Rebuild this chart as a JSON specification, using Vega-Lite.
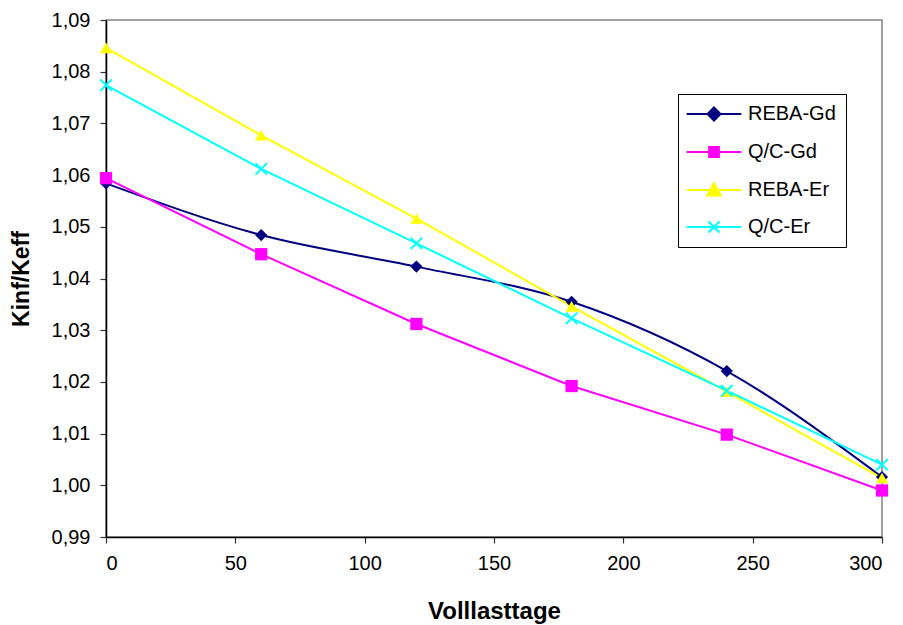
{
  "$schema": "https://vega.github.io/schema/vega-lite/v6.json",
  "autosize": "none",
  "width": 776,
  "height": 517,
  "padding": {"left": 106, "top": 20, "right": 21, "bottom": 88},
  "background": "white",
  "config": {
    "font": "Liberation Sans",
    "view": {"stroke": "#808080", "strokeWidth": 1.5},
    "axis": {
      "grid": false,
      "labelFont": "Liberation Sans",
      "labelFontSize": 20,
      "labelColor": "black",
      "titleFont": "Liberation Sans",
      "titleFontWeight": "bold",
      "titleColor": "black",
      "domainColor": "black",
      "domainWidth": 1.5,
      "tickColor": "#333",
      "tickSize": 6,
      "tickWidth": 1.2
    }
  },
  "data": {
    "values": [
      {"t": 0, "v": 1.0584, "s": "REBA-Gd"},
      {"t": 60, "v": 1.0484, "s": "REBA-Gd"},
      {"t": 120, "v": 1.0423, "s": "REBA-Gd"},
      {"t": 180, "v": 1.0355, "s": "REBA-Gd"},
      {"t": 240, "v": 1.0221, "s": "REBA-Gd"},
      {"t": 300, "v": 1.0016, "s": "REBA-Gd"},
      {"t": 0, "v": 1.0594, "s": "Q/C-Gd"},
      {"t": 60, "v": 1.0447, "s": "Q/C-Gd"},
      {"t": 120, "v": 1.0312, "s": "Q/C-Gd"},
      {"t": 180, "v": 1.0192, "s": "Q/C-Gd"},
      {"t": 240, "v": 1.0098, "s": "Q/C-Gd"},
      {"t": 300, "v": 0.999, "s": "Q/C-Gd"},
      {"t": 0, "v": 1.0846, "s": "REBA-Er"},
      {"t": 60, "v": 1.0677, "s": "REBA-Er"},
      {"t": 120, "v": 1.0516, "s": "REBA-Er"},
      {"t": 180, "v": 1.0346, "s": "REBA-Er"},
      {"t": 240, "v": 1.0181, "s": "REBA-Er"},
      {"t": 300, "v": 1.0014, "s": "REBA-Er"},
      {"t": 0, "v": 1.0774, "s": "Q/C-Er"},
      {"t": 60, "v": 1.0612, "s": "Q/C-Er"},
      {"t": 120, "v": 1.0468, "s": "Q/C-Er"},
      {"t": 180, "v": 1.0323, "s": "Q/C-Er"},
      {"t": 240, "v": 1.0183, "s": "Q/C-Er"},
      {"t": 300, "v": 1.004, "s": "Q/C-Er"}
    ]
  },
  "encoding": {
    "x": {
      "field": "t",
      "type": "quantitative",
      "scale": {"domain": [0, 300], "nice": false, "zero": false},
      "axis": {"values": [0, 50, 100, 150, 200, 250, 300], "title": "Volllasttage", "titleFontSize": 24, "labelPadding": 10, "titlePadding": 26}
    },
    "y": {
      "field": "v",
      "type": "quantitative",
      "scale": {"domain": [0.99, 1.09], "nice": false, "zero": false},
      "axis": {
        "values": [0.99, 1.0, 1.01, 1.02, 1.03, 1.04, 1.05, 1.06, 1.07, 1.08, 1.09],
        "labelExpr": "replace(format(datum.value, '.2f'), '.', ',')",
        "title": "Kinf/Keff",
        "titleFontSize": 23,
        "labelPadding": 10,
        "titlePadding": 18
      }
    },
    "color": {
      "field": "s",
      "type": "nominal",
      "scale": {"domain": ["REBA-Gd", "Q/C-Gd", "REBA-Er", "Q/C-Er"], "range": ["#000080", "#FF00FF", "#FFFF00", "#00FFFF"]},
      "legend": {
        "title": null,
        "orient": "none",
        "legendX": 572,
        "legendY": 74,
        "strokeColor": "black",
        "fillColor": "white",
        "padding": 10,
        "labelFontSize": 20,
        "labelColor": "black",
        "labelFont": "Liberation Sans",
        "symbolSize": 170,
        "symbolOffset": 16,
        "labelOffset": 24,
        "rowPadding": 17,
        "symbolStrokeWidth": 2,
        "encode": {
          "symbols": {
            "update": {
              "shape": {"signal": "datum.value === 'REBA-Gd' ? 'M-4.2,0H4.2M0,-1L1,0L0,1L-1,0Z' : datum.value === 'Q/C-Gd' ? 'M-4.2,0H4.2M-0.75,-0.75H0.75V0.75H-0.75Z' : datum.value === 'REBA-Er' ? 'M-4.2,0H4.2M0,-1.05L1.05,0.85H-1.05Z' : 'M-4.2,0H4.2M-0.85,-0.85L0.85,0.85M-0.85,0.85L0.85,-0.85'"},
              "fill": {"signal": "scale('color', datum.value)"},
              "stroke": {"signal": "scale('color', datum.value)"},
              "strokeWidth": {"value": 2},
              "opacity": {"value": 1}
            }
          }
        }
      }
    }
  },
  "layer": [
    {
      "transform": [{"filter": "datum.s === 'REBA-Gd'"}],
      "mark": {"type": "line", "strokeWidth": 2, "interpolate": "monotone"}
    },
    {
      "transform": [{"filter": "datum.s !== 'REBA-Gd'"}],
      "mark": {"type": "line", "strokeWidth": 2}
    },
    {
      "transform": [{"filter": "datum.s !== 'Q/C-Er'"}],
      "mark": {"type": "point", "filled": true, "size": 150, "opacity": 1},
      "encoding": {
        "shape": {
          "field": "s",
          "type": "nominal",
          "scale": {"domain": ["Q/C-Er", "REBA-Er", "Q/C-Gd", "REBA-Gd"], "range": ["M-1,-1L1,1M-1,1L1,-1", "triangle-up", "square", "diamond"]},
          "legend": null
        }
      }
    },
    {
      "transform": [{"filter": "datum.s === 'Q/C-Er'"}],
      "mark": {"type": "point", "filled": false, "size": 130, "opacity": 1, "strokeWidth": 2},
      "encoding": {
        "shape": {
          "field": "s",
          "type": "nominal",
          "scale": {"domain": ["Q/C-Er", "REBA-Er", "Q/C-Gd", "REBA-Gd"], "range": ["M-1,-1L1,1M-1,1L1,-1", "triangle-up", "square", "diamond"]},
          "legend": null
        }
      }
    }
  ]
}
